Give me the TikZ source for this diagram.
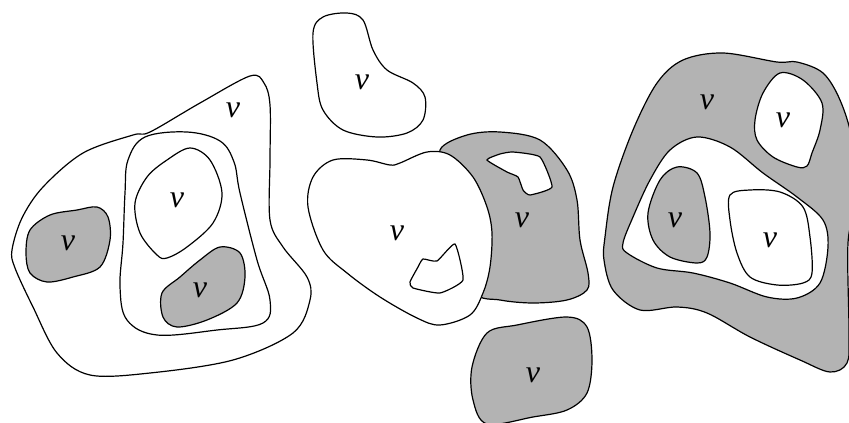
\documentclass[tikz,border=0pt]{standalone}
\usepackage{fontspec}
\setmainfont{Liberation Serif}
\definecolor{shade}{RGB}{179,179,179}
\tikzset{
  blobw/.style={draw=black, line width=1.2pt, fill=white},
  blobg/.style={draw=black, line width=1.2pt, fill=shade},
  lab/.style={font=\fontsize{32}{32}\selectfont\itshape, inner sep=0pt}
}
\begin{document}
\begin{tikzpicture}[x=1pt,y=-1pt]
\useasboundingbox (0,0) rectangle (849,423);
\clip (0,0) rectangle (849,423);
% ---------- left group ----------
\draw[blobw] plot[smooth cycle, tension=0.55] coordinates {
 (250,76) (264,83) (270,105) (270,160) (270,220) (283,247) (307,277) (310,300)
 (293,333) (233,360) (150,373) (90,375) (57,353) (33,307) (15,268) (12,250)
 (22,218) (43,187) (83,153) (133,135) (150,132) (200,103)};
\draw[blobw] plot[smooth cycle, tension=0.6] coordinates {
 (145,137) (187,132) (220,141) (234,162) (240,193) (257,260) (270,300) (263,323)
 (217,330) (157,335) (127,320) (120,287) (123,243) (125,193) (128,160)};
\draw[blobw] plot[smooth cycle, tension=0.55] coordinates {
 (190,148) (210,160) (222,193) (213,223) (187,247) (167,258) (157,255)
 (140,233) (135,203) (147,177) (167,160)};
\draw[blobg] plot[smooth cycle, tension=0.55] coordinates {
 (30,230) (50,215) (77,210) (97,207) (108,217) (110,240) (100,267) (73,277)
 (47,282) (30,273) (26,253)};
\draw[blobg] plot[smooth cycle, tension=0.55] coordinates {
 (220,247) (240,253) (245,277) (237,303) (207,320) (177,327) (163,317)
 (162,293) (180,277) (200,260)};
\node[lab] (l1) at (233,110) {v};
\node[lab] (l2) at (177,200) {v};
\node[lab] (l3) at (68,243) {v};
\node[lab] (l4) at (200,290) {v};
% ---------- middle group ----------
\draw[blobw] plot[smooth cycle, tension=0.55] coordinates {
 (347,13) (363,20) (373,50) (387,70) (413,83) (425,97) (423,120) (407,133)
 (377,137) (343,130) (323,110) (317,83) (313,33) (323,17)};
\node[lab] (l5) at (362,82) {v};
\draw[blobg] plot[smooth cycle, tension=0.55] coordinates {
 (440,150) (467,135) (500,132) (540,140) (567,170) (577,200) (580,240)
 (588,273) (587,290) (567,300) (533,303) (500,300) (475,292) (462,240) (450,180)};
\draw[blobw] plot[smooth cycle, tension=0.55] coordinates {
 (400,163) (427,152) (450,155) (473,177) (487,207) (492,233) (490,267) (483,293)
 (470,315) (440,325) (417,318) (380,297) (347,273) (323,250) (308,207) (313,177)
 (333,160) (367,160) (390,165)};
\draw[blobw] plot[smooth cycle, tension=0.3] coordinates {
 (487,160) (500,154) (513,152) (540,157) (552,187) (530,195) (523,190)
 (518,177) (507,172)};
\draw[blobw] plot[smooth cycle, tension=0.3] coordinates {
 (423,259) (437,261) (455,244) (463,280) (440,293) (413,288) (410,282) (418,267)};
\node[lab] (l6) at (397,233) {v};
\node[lab] (l7) at (522,220) {v};
\draw[blobg] plot[smooth cycle, tension=0.55] coordinates {
 (517,325) (567,317) (587,327) (592,360) (587,393) (567,410) (533,417)
 (487,424) (473,400) (472,367) (487,333)};
\node[lab] (l8) at (533,375) {v};
% ---------- right group ----------
\draw[blobg] plot[smooth cycle, tension=0.55] coordinates {
 (723,53) (777,62) (797,62) (823,73) (840,100) (852,140) (856,200) (848,243)
 (849,333) (847,363) (830,372) (800,360) (750,337) (707,313) (677,307)
 (640,310) (613,290) (604,260) (605,237) (613,187) (633,130) (657,83) (683,60)};
\draw[blobw] plot[smooth cycle, tension=0.55] coordinates {
 (780,73) (803,80) (822,103) (820,130) (812,153) (807,166) (797,167) (773,157)
 (757,140) (755,120) (763,93)};
\draw[blobw] plot[smooth cycle, tension=0.55] coordinates {
 (697,137) (730,147) (763,173) (797,197) (823,220) (828,247) (820,283) (797,298)
 (767,297) (730,283) (693,273) (657,268) (627,253) (623,243) (633,217) (650,180)
 (670,150)};
\draw[blobg] plot[smooth cycle, tension=0.55] coordinates {
 (677,167) (697,173) (705,197) (710,233) (707,257) (697,263) (670,257)
 (653,240) (648,213) (660,180)};
\draw[blobw] plot[smooth cycle, tension=0.55] coordinates {
 (730,195) (750,190) (780,192) (803,207) (810,237) (812,273) (803,283)
 (777,285) (750,277) (737,253) (730,220)};
\node[lab] (l9) at (707,102) {v};
\node[lab] (l10) at (783,120) {v};
\node[lab] (l11) at (675,220) {v};
\node[lab] (l12) at (770,240) {v};
\end{tikzpicture}
\end{document}
